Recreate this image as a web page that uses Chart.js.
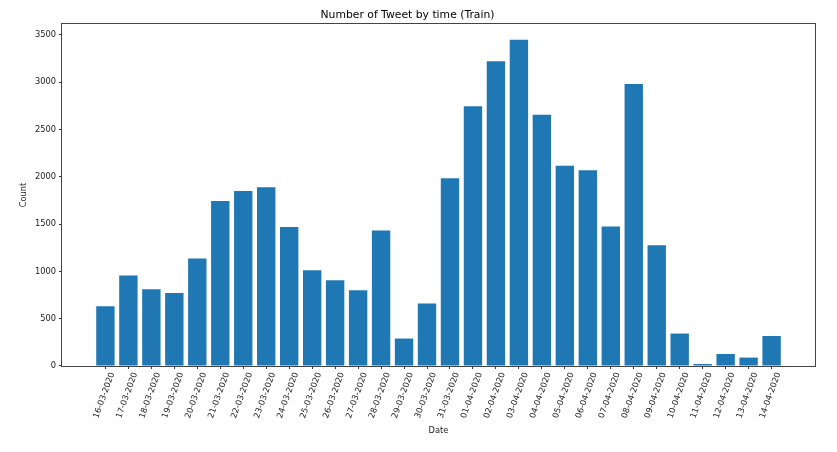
<!DOCTYPE html>
<html>
<head>
<meta charset="utf-8">
<script src="https://cdn.jsdelivr.net/npm/chart.js@4"></script>
<style>
  html, body { margin: 0; padding: 0; background: #fff; }
  canvas { display: block; }
</style>
</head>
<body>
<canvas id="tweetChart" width="837" height="452"></canvas>
<script>
/* Number of Tweet by time (Train) -- bar chart of tweet counts per day */
const dates = [
  '16-03-2020', '17-03-2020', '18-03-2020', '19-03-2020', '20-03-2020',
  '21-03-2020', '22-03-2020', '23-03-2020', '24-03-2020', '25-03-2020',
  '26-03-2020', '27-03-2020', '28-03-2020', '29-03-2020', '30-03-2020',
  '31-03-2020', '01-04-2020', '02-04-2020', '03-04-2020', '04-04-2020',
  '05-04-2020', '06-04-2020', '07-04-2020', '08-04-2020', '09-04-2020',
  '10-04-2020', '11-04-2020', '12-04-2020', '13-04-2020', '14-04-2020'
];
const counts = [
  632, 957, 812, 772, 1136, 1743, 1849, 1888, 1468, 1013,
  907, 801, 1433, 290, 660, 1983, 2745, 3221, 3447, 2656,
  2116, 2068, 1475, 2981, 1277, 343, 21, 127, 89, 317
];
const yTicks = [0, 500, 1000, 1500, 2000, 2500, 3000, 3500];

const FONT = 'DejaVu Sans';
const INK = '#222';

// matplotlib-like full box around the plot area
const frame = {
  id: 'frame',
  afterDraw(chart) {
    const { ctx, chartArea: a } = chart;
    ctx.save();
    ctx.strokeStyle = '#444';
    ctx.lineWidth = 1;
    ctx.strokeRect(Math.round(a.left) - 0.5, Math.round(a.top) - 0.5,
      Math.round(a.right - a.left) + 1, Math.round(a.bottom - a.top) + 1);
    ctx.restore();
  }
};

new Chart(document.getElementById('tweetChart'), {
  type: 'bar',
  data: {
    datasets: [{
      data: counts.map((c, i) => ({ x: i, y: c })),
      backgroundColor: '#1f77b4',
      borderWidth: 0,
      barPercentage: 0.8,
      categoryPercentage: 1
    }]
  },
  options: {
    responsive: false,
    animation: false,
    devicePixelRatio: 1,
    layout: { padding: { left: 0, right: 22, top: 0, bottom: 0 } },
    plugins: {
      legend: { display: false },
      tooltip: { enabled: false },
      title: {
        display: true,
        text: 'Number of Tweet by time (Train)',
        color: '#000',
        font: { family: FONT, size: 10.8, weight: 'normal' },
        padding: { top: 8.5, bottom: 2.5 }
      }
    },
    scales: {
      x: {
        type: 'linear',
        offset: false,
        min: -1.89,
        max: 30.89,
        afterBuildTicks: axis => { axis.ticks = dates.map((d, i) => ({ value: i })); },
        afterFit: axis => { axis.height = 86; },
        ticks: {
          autoSkip: false,
          minRotation: 70,
          maxRotation: 70,
          labelOffset: 7,
          padding: 2,
          color: INK,
          font: { family: FONT, size: 8.3 },
          callback: v => dates[v]
        },
        grid: { offset: false, drawOnChartArea: false, drawTicks: true, tickLength: 3, tickColor: '#333' },
        border: { display: false },
        title: {
          display: true,
          text: 'Date',
          color: INK,
          font: { family: FONT, size: 8.3 },
          padding: { top: 0, bottom: 16 }
        }
      },
      y: {
        min: 0,
        max: 3615,
        afterBuildTicks: axis => { axis.ticks = yTicks.map(v => ({ value: v })); },
        afterFit: axis => { axis.width = 62; },
        ticks: {
          padding: 3,
          color: INK,
          font: { family: FONT, size: 8.3 },
          callback: v => String(v)
        },
        grid: { drawOnChartArea: false, drawTicks: true, tickLength: 3, tickColor: '#333' },
        border: { display: false },
        title: {
          display: true,
          text: 'Count',
          color: INK,
          font: { family: FONT, size: 8.3 },
          padding: { top: 19, bottom: 0 }
        }
      }
    }
  },
  plugins: [frame]
});
</script>
</body>
</html>
